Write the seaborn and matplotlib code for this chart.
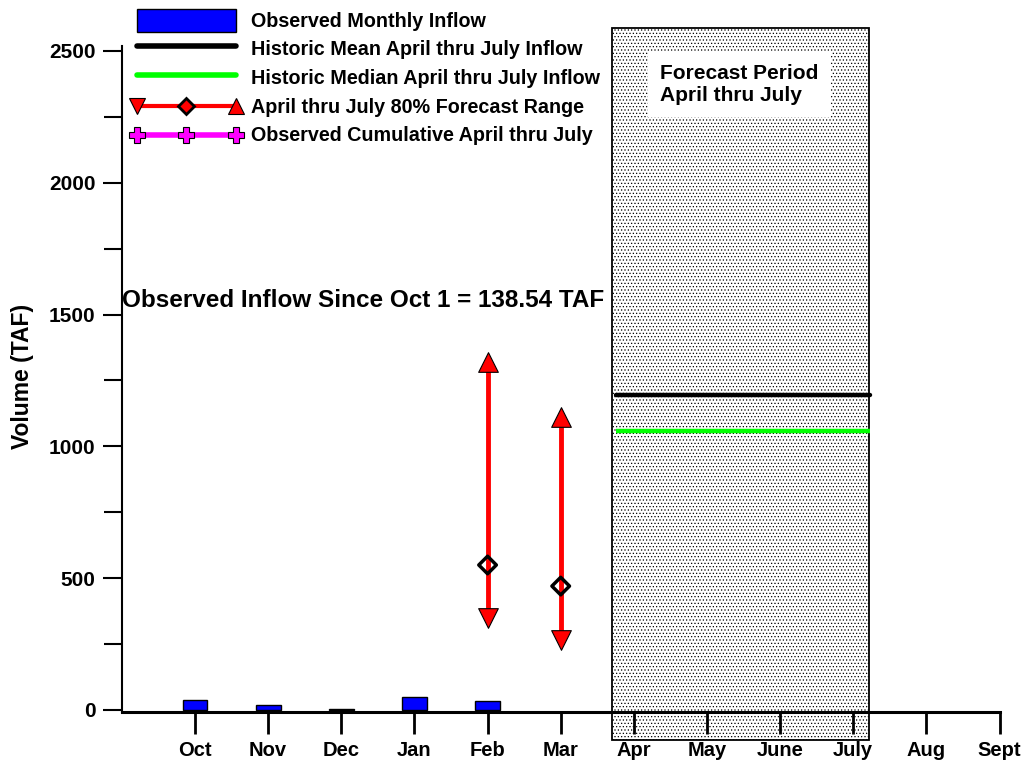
import matplotlib
matplotlib.use("Agg")
import matplotlib.pyplot as plt
import seaborn as sns
import numpy as np
import pandas as pd
from matplotlib.patches import Rectangle
from matplotlib.lines import Line2D
from matplotlib.legend_handler import HandlerBase

# ---- data ----
months = ["Oct", "Nov", "Dec", "Jan", "Feb", "Mar", "Apr", "May", "June", "July", "Aug", "Sept"]
month_pos = list(range(1, 13))
observed_pos = [1, 2, 3, 4, 5]
observed_inflow = [36, 18, 3, 49, 32.5]
forecast_pos = [5, 6]
forecast_low = [350, 265]
forecast_mid = [550, 470]
forecast_high = [1320, 1110]
hist_mean = 1195
hist_median = 1058
observed_total = 138.54

sns.set_style("ticks")
plt.rcParams["font.family"] = ["Liberation Sans", "DejaVu Sans"]
plt.rcParams["font.weight"] = "bold"
plt.rcParams["text.color"] = "black"
plt.rcParams["axes.labelcolor"] = "black"
plt.rcParams["xtick.color"] = "black"
plt.rcParams["ytick.color"] = "black"
plt.rcParams["axes.edgecolor"] = "black"
plt.rcParams["hatch.linewidth"] = 0.5
plt.rcParams["hatch.color"] = "#555555"

fig = plt.figure(figsize=(10.26, 7.67), dpi=100)
ax = fig.add_axes([0.1188, 0.0716, 0.9749 - 0.1188, 0.8688])

# forecast period shaded box (extends beyond axes)
rect = Rectangle((6.70, -114), 3.51, 2701, facecolor="white", edgecolor="black",
                 hatch=".....", lw=1.3, clip_on=False, zorder=0.5)
ax.add_patch(rect)
ax.text(7.36, 2451, "Forecast Period\nApril thru July", fontsize=15, weight="bold",
        va="top", ha="left", zorder=3, linespacing=1.2,
        bbox=dict(boxstyle="square,pad=0.6", facecolor="white", edgecolor="none"))

# observed monthly inflow bars
df = pd.DataFrame({"pos": observed_pos, "val": observed_inflow})
sns.barplot(data=df, x="pos", y="val", native_scale=True, width=0.34, color="#0000ff",
            saturation=1, edgecolor="black", linewidth=1, ax=ax, zorder=2)

# historic mean / median lines
ax.plot([6.75, 10.23], [hist_mean, hist_mean], color="black", lw=3.2, zorder=3,
        solid_capstyle="round")
ax.plot([6.75, 10.23], [hist_median, hist_median], color="#00ff00", lw=3.2, zorder=3,
        solid_capstyle="butt")

# forecast ranges
for x, lo, mid, hi in zip(forecast_pos, forecast_low, forecast_mid, forecast_high):
    ax.plot([x, x], [lo, hi], color="red", lw=3.5, zorder=3)
sns.scatterplot(x=forecast_pos, y=forecast_high, marker="^", s=200, color="red",
                edgecolor="black", linewidth=0.8, ax=ax, zorder=4)
sns.scatterplot(x=forecast_pos, y=forecast_low, marker="v", s=200, color="red",
                edgecolor="black", linewidth=0.8, ax=ax, zorder=4)
ax.scatter(forecast_pos, forecast_mid, marker="D", s=80, facecolor="none",
           edgecolor="black", linewidth=2.5, zorder=5)

ax.text(0.0, 1555, f"Observed Inflow Since Oct 1 = {observed_total:.2f} TAF",
        fontsize=17.5, weight="bold", va="center", ha="left", zorder=6)

# axes styling
ax.set_xlim(0, 12.01)
ax.set_ylim(-8, 2520)
ax.set_xticks(month_pos)
ax.set_xticklabels(months, fontsize=14.5, weight="bold")
ax.set_yticks([0, 500, 1000, 1500, 2000, 2500])
ax.set_yticks(np.arange(250, 2500, 500), minor=True)
ax.set_yticklabels(["0", "500", "1000", "1500", "2000", "2500"], fontsize=15, weight="bold")
ax.tick_params(axis="y", which="major", length=14, width=1.5, pad=5, direction="out")
ax.tick_params(axis="y", which="minor", length=13, width=1.5, direction="out")
ax.tick_params(axis="x", which="major", length=16, width=2, pad=5, direction="out")
for s in ["top", "right"]:
    ax.spines[s].set_visible(False)
ax.spines["left"].set_linewidth(1.5)
ax.spines["bottom"].set_linewidth(2.2)
ax.set_xlabel("")
ax.set_ylabel("Volume (TAF)", fontsize=16.5, weight="bold")
ax.yaxis.set_label_coords(-0.100, 0.504)


# legend with custom handlers
class TriMarkerHandler(HandlerBase):
    def __init__(self, color, markers, mfc, mec, ms, mew, lw):
        super().__init__()
        self.color, self.markers, self.mfc, self.mec = color, markers, mfc, mec
        self.ms, self.mew, self.lw = ms, mew, lw

    def create_artists(self, legend, orig_handle, xdescent, ydescent, width, height,
                       fontsize, trans):
        y = height / 2 - ydescent
        x0, x1 = -xdescent, width - xdescent
        arts = [Line2D([x0, x1], [y, y], color=self.color, lw=self.lw)]
        for xm, mk, fc in zip([x0, (x0 + x1) / 2, x1], self.markers, self.mfc):
            arts.append(Line2D([xm], [y], marker=mk, markersize=self.ms[mk],
                               markerfacecolor=fc, markeredgecolor=self.mec,
                               markeredgewidth=self.mew[mk], linestyle="none"))
        for a in arts:
            a.set_transform(trans)
        return arts


h_bar = Rectangle((0, 0), 1, 1, facecolor="#0000ff", edgecolor="black", lw=1)
h_mean = Line2D([], [], color="black", lw=4, solid_capstyle="round")
h_med = Line2D([], [], color="#00ff00", lw=4, solid_capstyle="round")
h_rng = Line2D([], [], color="red")
h_cum = Line2D([], [], color="magenta")
labels = ["Observed Monthly Inflow", "Historic Mean April thru July Inflow",
          "Historic Median April thru July Inflow", "April thru July 80% Forecast Range",
          "Observed Cumulative April thru July"]
leg = fig.legend([h_bar, h_mean, h_med, h_rng, h_cum], labels,
                 handler_map={
                     h_rng: TriMarkerHandler("red", ["v", "D", "^"], ["red", "red", "red"],
                                             "black", {"v": 12, "D": 8, "^": 12},
                                             {"v": 0.8, "D": 2.0, "^": 0.8}, 3),
                     h_cum: TriMarkerHandler("magenta", ["P", "P", "P"],
                                             ["magenta"] * 3, "black",
                                             {"P": 12}, {"P": 0.8}, 4)},
                 loc="upper left", bbox_to_anchor=(137 / 1026, 1 - 8.5 / 767),
                 bbox_transform=fig.transFigure, frameon=False, borderpad=0,
                 borderaxespad=0, handlelength=5.0, handleheight=1.42,
                 handletextpad=0.78, labelspacing=0.285,
                 prop={"weight": "bold", "size": 14.2})

fig.savefig("out.png", dpi=100)
